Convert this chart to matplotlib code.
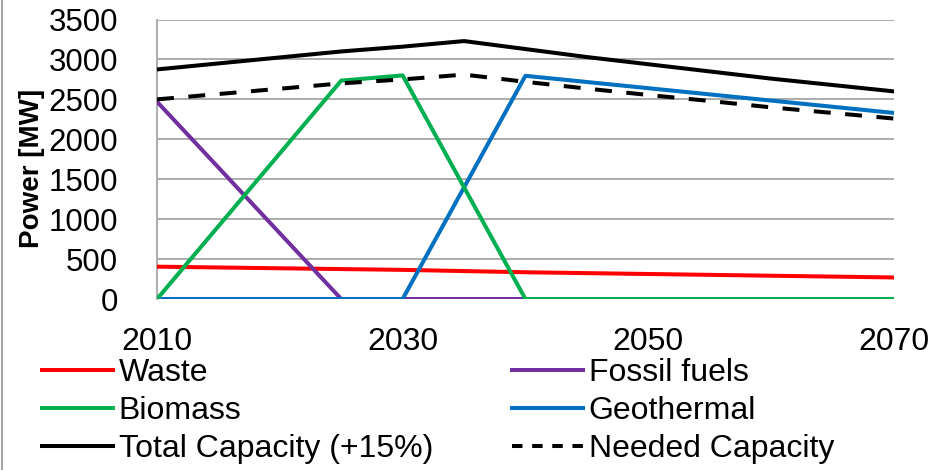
import matplotlib.pyplot as plt
from matplotlib.lines import Line2D

plt.rcParams['font.family'] = ['Liberation Sans', 'DejaVu Sans']

# power by source [MW]
waste_years = [2010, 2025, 2030, 2035, 2040, 2070]
waste = [405, 375, 365, 350, 335, 270]

fossil_years = [2010, 2025, 2030, 2040, 2070]
fossil = [2470, 0, 0, 0, 0]

biomass_years = [2010, 2025, 2030, 2040, 2070]
biomass = [0, 2735, 2800, 0, 0]

geo_years = [2010, 2025, 2030, 2040, 2070]
geothermal = [0, 0, 0, 2795, 2330]

cap_years = [2010, 2025, 2030, 2035, 2040, 2045, 2050, 2055, 2060, 2065, 2070]
total_capacity = [2875, 3100, 3160, 3230, 3130, 3030, 2940, 2850, 2760, 2680, 2600]
needed_capacity = [2500, 2700, 2750, 2810, 2720, 2635, 2555, 2480, 2400, 2330, 2260]

x_ticks = [2010, 2030, 2050, 2070]
y_ticks = [0, 500, 1000, 1500, 2000, 2500, 3000, 3500]

fig = plt.figure(figsize=(9.32, 4.70), dpi=100)
ax = fig.add_axes([0.1685, 0.3638, 0.7905, 0.5947])

lw = 2.9
ax.plot(waste_years, waste, color='#FF0000', lw=lw, label='Waste', zorder=3)
ax.plot(fossil_years, fossil, color='#7030A0', lw=lw, label='Fossil fuels', zorder=3)
ax.plot(geo_years, geothermal, color='#0070C0', lw=lw, label='Geothermal', zorder=4)
ax.plot(biomass_years, biomass, color='#00B050', lw=lw, label='Biomass', zorder=5)
ax.plot(cap_years, total_capacity, color='black', lw=lw, label='Total Capacity (+15%)', zorder=6)
ax.plot(cap_years, needed_capacity, color='black', lw=lw, dashes=(4.2, 3.6),
        label='Needed Capacity', zorder=6)

ax.set_xlim(2010, 2070)
ax.set_ylim(0, 3500)
ax.set_xticks(x_ticks)
ax.set_yticks(y_ticks)
ax.tick_params(axis='x', length=0, labelsize=23, pad=20)
ax.tick_params(axis='y', length=0, labelsize=22.5, pad=28)
ax.grid(axis='y', color='#A6A6A6', lw=1.3, zorder=0)
for s in ['top', 'right', 'bottom']:
    ax.spines[s].set_visible(False)
ax.spines['left'].set_color('#A6A6A6')
ax.spines['left'].set_linewidth(1.3)
ax.set_ylabel('Power [MW]', fontsize=20, fontweight='bold')
ax.yaxis.set_label_coords(-0.152, 0.467)

handles = [
    Line2D([], [], color='#FF0000', lw=lw),
    Line2D([], [], color='#00B050', lw=lw),
    Line2D([], [], color='black', lw=lw),
    Line2D([], [], color='#7030A0', lw=lw),
    Line2D([], [], color='#0070C0', lw=lw),
    Line2D([], [], color='black', lw=lw, dashes=(2.6, 2.4)),
]
labels = ['Waste', 'Biomass', 'Total Capacity (+15%)',
          'Fossil fuels', 'Geothermal', 'Needed Capacity']
fig.legend(handles, labels, ncol=2, loc='upper left', bbox_to_anchor=(0.0455, 0.238),
           frameon=False, fontsize=23, handlelength=2.2, handletextpad=0.19,
           columnspacing=2.48, labelspacing=0.25, borderaxespad=0, borderpad=0)

# thin frame line on the left edge
fig.add_artist(Line2D([0.002, 0.002], [0, 1], color='#A6A6A6', lw=1.5,
                      transform=fig.transFigure))

fig.savefig('out.png', dpi=100)
